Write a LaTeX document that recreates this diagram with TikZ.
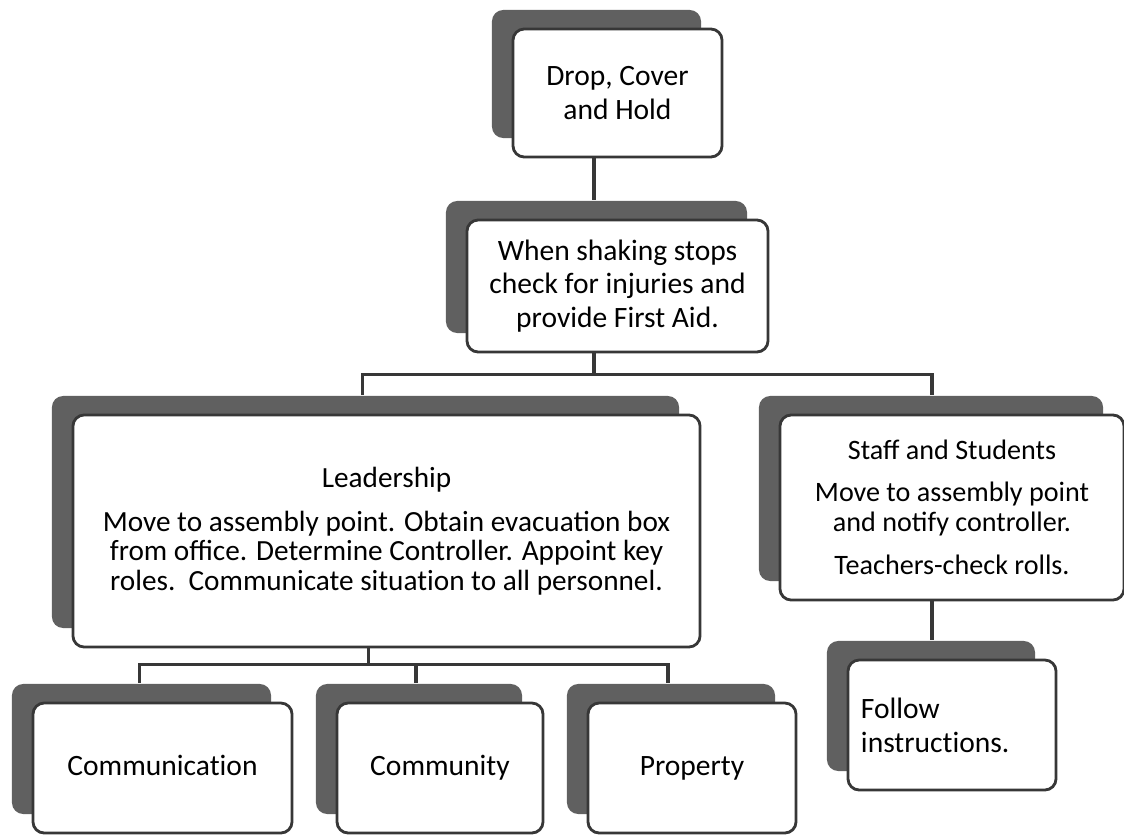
\documentclass[tikz,border=0pt]{standalone}
\usepackage{fontspec}
\setmainfont{Carlito}
\usetikzlibrary{shadows}
\definecolor{shadowgray}{RGB}{96,96,96}
\definecolor{linegray}{RGB}{55,55,55}
\newcommand\nolig{\kern0pt}
\begin{document}
\begin{tikzpicture}[x=0.025cm, y=-0.025cm,
  box/.style={draw=linegray, line width=2pt, fill=white,
    rounded corners=8pt, align=center, inner sep=6pt,
    font=\fontsize{21}{24}\selectfont,
    general shadow={shadow xshift=-0.525cm, shadow yshift=0.475cm,
      fill=shadowgray}},
  wide/.style={box, font=\fontsize{20}{21}\selectfont},
  leaf/.style={box, minimum height=3.25cm, text height=1.3em, text depth=0.25em},
  link/.style={draw=linegray, line width=2.4pt}]
  \useasboundingbox (0,0) rectangle (1124,835);
  \node[box, minimum width=5.225cm, minimum height=3.2cm] (drop) at (617.5,93)
    {Drop, Cover\\and Hold};
  \node[box, minimum width=7.525cm, minimum height=3.3cm] (shake) at (617.5,286)
    {When shaking stops\\check for injuries and\\provide First Aid.};
  \node[wide, font=\fontsize{20.8}{21}\selectfont, minimum width=15.675cm,
    minimum height=5.8cm] (lead) at (386.5,531)
    {Leadership\\[10pt]Move to assembly point. Obtain evacuation box\\
     from office. Determine Controller. Appoint key\\
     roles.\ \ Communicate situat\nolig ion to all personnel.};
  \node[wide, minimum width=8.6cm, minimum height=4.625cm] (staff) at (952,507.5)
    {Staff and Students\\[9pt]Move to assembly point\\and notify controller.\\[10pt]
     Teachers-check rolls.};
  \node[box, minimum width=5.2cm, minimum height=3.25cm, text width=4.55cm,
    inner xsep=0.325cm, align=left] (follow) at (952,725)
    {Follow\\instruct\nolig ions.};
  \node[leaf, minimum width=6.475cm] (comm) at (162.5,768)
    {Communicat\nolig ion};
  \node[leaf, minimum width=5.15cm] (community) at (440,768)
    {Community};
  \node[leaf, minimum width=5.2cm] (property) at (692,768)
    {Property};

  \draw[link] ([xshift=-0.5875cm]drop.south)
    -- ([xshift=-0.5875cm,yshift=0.475cm]shake.north);
  \draw[link] ([xshift=-0.5875cm]shake.south) -- ++(0,21)
    -| ([xshift=-0.6cm,yshift=0.475cm]lead.north);
  \draw[link] ([xshift=-0.5875cm]shake.south) -- ++(0,21)
    -| ([xshift=-0.5cm,yshift=0.475cm]staff.north);
  \draw[link] ([xshift=-0.45cm]lead.south) -- ++(0,16)
    -| ([xshift=-0.575cm,yshift=0.475cm]comm.north);
  \draw[link] ([xshift=-0.45cm]lead.south) -- ++(0,16)
    -| ([xshift=-0.6cm,yshift=0.475cm]community.north);
  \draw[link] ([xshift=-0.45cm]lead.south) -- ++(0,16)
    -| ([xshift=-0.6cm,yshift=0.475cm]property.north);
  \draw[link] ([xshift=-0.5cm]staff.south)
    -- ([xshift=-0.5cm,yshift=0.475cm]follow.north);
\end{tikzpicture}
\end{document}
